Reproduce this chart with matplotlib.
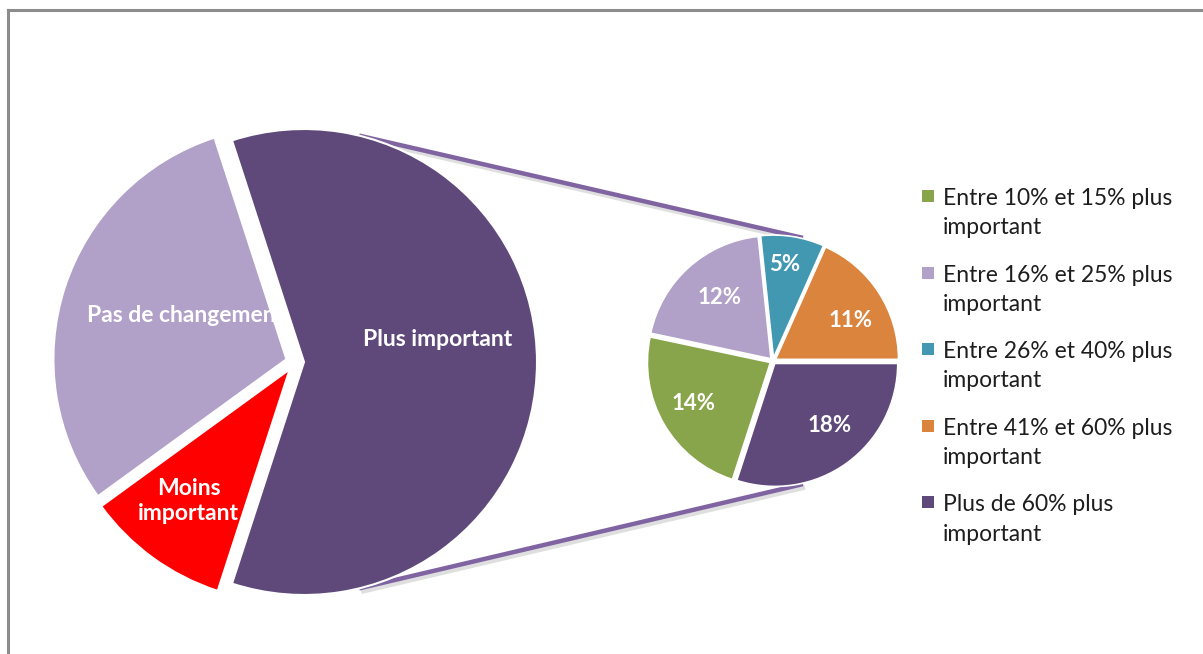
import numpy as np
import matplotlib
matplotlib.use("Agg")
import matplotlib.pyplot as plt
import matplotlib.patheffects as pe
from matplotlib.patches import Rectangle
from matplotlib.lines import Line2D

plt.rcParams['font.family'] = ['Lato', 'DejaVu Sans']

# Main pie
main_labels = ["Moins\nimportant", "Pas de changement", "Plus important"]
main_values = [10, 30, 60]
main_colors = ["#FF0000", "#B1A0C7", "#5F497A"]

# Breakdown of "Plus important"
sub_labels = ["Entre 10% et 15% plus\nimportant",
              "Entre 16% et 25% plus\nimportant",
              "Entre 26% et 40% plus\nimportant",
              "Entre 41% et 60% plus\nimportant",
              "Plus de 60% plus\nimportant"]
sub_values = [14, 12, 5, 11, 18]
sub_colors = ["#88A54B", "#B1A0C7", "#4298B0", "#DB843D", "#5F497A"]

W, H = 1203, 654
fig = plt.figure(figsize=(W / 100, H / 100), dpi=100)
ax = fig.add_axes([0, 0, 1, 1])
ax.set_xlim(0, W)
ax.set_ylim(0, H)
ax.set_aspect("equal")
ax.axis("off")

def py(y):
    return H - y

# pie geometry (pixel units)
mc = (295, py(362))
mr = 233
m_expl = 9
sc = (773, py(361))
sr = 123
s_expl = 3

wedges_m, _ = ax.pie(main_values, colors=main_colors, startangle=252,
                     counterclock=False, center=mc, radius=mr,
                     explode=[m_expl] * 3, frame=True,
                     wedgeprops=dict(linewidth=1.5, edgecolor="white",
                                     zorder=2))
# the exploded "Plus important" wedge sits above the other slices' labels
wedges_m[2].set_zorder(4)

# main labels: (angle deg, distance fraction of radius, zorder)
main_lab_pos = [(232.6, 0.75, 3), (157, 0.51, 3), (9, 0.62, 5)]
for lab, (ang, d, z) in zip(main_labels, main_lab_pos):
    a = np.deg2rad(ang)
    ax.text(mc[0] + d * mr * np.cos(a), mc[1] + d * mr * np.sin(a), lab,
            ha="center", va="center", color="white", fontsize=16.5,
            fontweight="bold", zorder=z, linespacing=1.2)

wedges_s, _ = ax.pie(sub_values, colors=sub_colors, startangle=252,
                     counterclock=False, center=sc, radius=sr,
                     explode=[s_expl] * 5, frame=True,
                     wedgeprops=dict(linewidth=1.2, edgecolor="white",
                                     zorder=2))

sub_lab_pos = [(208, 0.73), (130, 0.67), (83, 0.79), (28, 0.71), (-49, 0.70)]
for v, (ang, d) in zip(sub_values, sub_lab_pos):
    a = np.deg2rad(ang)
    ax.text(sc[0] + d * sr * np.cos(a), sc[1] + d * sr * np.sin(a), f"{v}%",
            ha="center", va="center", color="white", fontsize=16,
            fontweight="bold", zorder=5)

# connector lines between the two pies
pc = (mc[0] + m_expl, mc[1])
for s in (1, -1):
    a = np.deg2rad(76.3 * s)
    x0, y0 = pc[0] + mr * np.cos(a), pc[1] + mr * np.sin(a)
    x1, y1 = sc[0] + sr * 1.03 * np.cos(a), sc[1] + sr * 1.03 * np.sin(a)
    ax.plot([x0, x1], [y0, y1], color="#8064A2", lw=3.2, zorder=1,
            solid_capstyle="butt",
            path_effects=[pe.SimpleLineShadow(offset=(1.5, -2.5), alpha=0.25,
                                              shadow_color="gray"),
                          pe.Normal()])

# legend
lx, ly0, step = 922, 196, 76.6
for i, (lab, col) in enumerate(zip(sub_labels, sub_colors)):
    y = ly0 + i * step
    ax.add_patch(Rectangle((lx, py(y) - 6), 12, 12, facecolor=col,
                           edgecolor="none", zorder=5))
    ax.text(943, py(y) + 8, lab, ha="left", va="top", fontsize=16.5,
            color="#1E1E1E", linespacing=1.48, zorder=5)

# chart border
for xs, ys in (((8, W), (py(10), py(10))), ((8, 8), (py(10), 0))):
    fig.add_artist(Line2D(np.array(xs) / W, np.array(ys) / H,
                          color="#8C8C8C", lw=2.2))

fig.savefig("out.png", dpi=100)
